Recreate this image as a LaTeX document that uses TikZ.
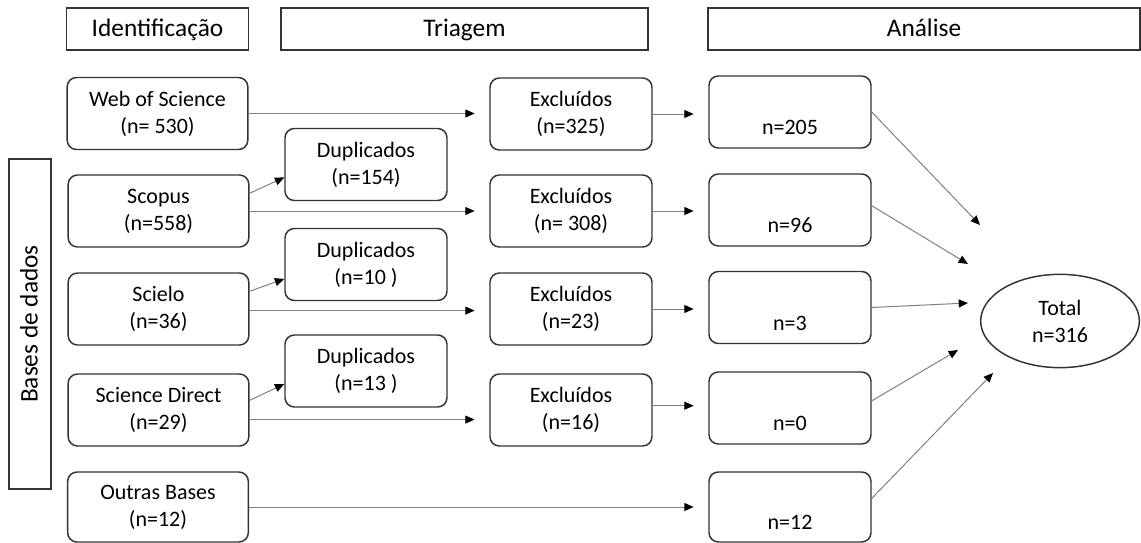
\documentclass[tikz,border=0pt]{standalone}
\usepackage{fontspec}
\setmainfont{Carlito}
\usepackage{tikz}
\usetikzlibrary{arrows.meta,shapes.geometric}

\begin{document}
\begin{tikzpicture}[x=0.75pt,y=-0.75pt,
  head/.style={draw=black!80,line width=1.1pt,inner sep=0pt,minimum height=31.5pt,text height=14.5pt,text depth=3pt,font=\fontsize{19}{23}\selectfont},
  box/.style={draw=black!80,line width=1.1pt,rounded corners=7pt,inner sep=0pt,minimum width=121.5pt,minimum height=54pt,align=center,font=\fontsize{16.5}{20.25}\selectfont},
  src/.style={box,minimum width=135.5pt},
  flow/.style={draw=black!50,line width=0.75pt,-{Triangle[length=7pt,width=6pt,color=black]}}]

\useasboundingbox (0,0) rectangle (1141,542);

% --- phase headers -----------------------------------------------------
\node[head,minimum width=136.5pt] (ident) at (157.5,29) {Identificação};
\node[head,minimum width=275pt] (triagem) at (464.5,29) {Triagem};
\node[head,minimum width=324pt] (analise) at (924,29) {Análise};
\node[head,rotate=90,minimum width=247.5pt,minimum height=31.5pt] (bases) at (30,324) {Bases de dados};

% --- databases ---------------------------------------------------------
\node[src] (wos) at (157.5,113.5) {Web of Science\\(n= 530)};
\node[src] (scopus) at (158.5,211) {Scopus\\(n=558)};
\node[src] (scielo) at (158.5,309) {Scielo\\(n=36)};
\node[src] (sdirect) at (158.5,410) {Science Direct\\(n=29)};
\node[src,minimum height=52.5pt] (outras) at (158,507) {Outras Bases\\(n=12)};

% --- duplicates --------------------------------------------------------
\node[box] (dup1) at (366,164.5) {Duplicados\\(n=154)};
\node[box] (dup2) at (366,264.5) {Duplicados\\(n=10 )};
\node[box] (dup3) at (366,371) {Duplicados\\(n=13 )};

% --- excluded ----------------------------------------------------------
\node[box] (exc1) at (571,114) {Excluídos\\(n=325)};
\node[box] (exc2) at (571,211) {Excluídos\\(n= 308)};
\node[box] (exc3) at (571,309) {Excluídos\\(n=23)};
\node[box] (exc4) at (571,410) {Excluídos\\(n=16)};

% --- analysed ----------------------------------------------------------
\node[box] (an1) at (790,112) {\strut\\n=205};
\node[box] (an2) at (790,210) {\strut\\n=96};
\node[box] (an3) at (790,307.5) {\strut\\n=3};
\node[box] (an4) at (790,408) {\strut\\n=0};
\node[box,minimum height=52.5pt] (an5) at (790,507) {\strut\\n=12};

\node[ellipse,draw=black!80,line width=1.1pt,minimum width=119pt,minimum height=70pt,inner sep=0pt,align=center,font=\fontsize{16.5}{20.25}\selectfont] (total) at (1060,321) {Total\\n=316};

\coordinate (t1) at (980,225);
\coordinate (t2) at (968,264);
\coordinate (t3) at (968,303);
\coordinate (t4) at (958,350);
\coordinate (t5) at (993,373);

% --- connectors --------------------------------------------------------
\draw[flow,shorten >=11pt] (wos.east) -- (wos.east -| exc1.west);
\draw[flow,shorten >=11pt] (scopus.east) -- (scopus.east -| exc2.west);
\draw[flow,shorten >=11pt] (scielo.-1) -- (scielo.-1 -| exc3.west);
\draw[flow,shorten >=11pt] (sdirect.-6) -- (sdirect.-6 -| exc4.west);
\draw[flow,shorten >=11pt] (outras.east) -- (outras.east -| an5.west);

\draw[flow] (scopus.11) -- (dup1.189);
\draw[flow] (scielo.11) -- (dup2.-170);
\draw[flow] (sdirect.6) -- (dup3.189);

\draw[flow,shorten >=11pt] (exc1.east) -- (exc1.east -| an1.west);
\draw[flow,shorten >=11pt] (exc2.east) -- (exc2.east -| an2.west);
\draw[flow,shorten >=11pt] (exc3.east) -- (exc3.east -| an3.west);
\draw[flow,shorten >=11pt] (exc4.3) -- (exc4.3 -| an4.west);

\draw[flow] (an1.east) -- (t1);
\draw[flow] (an2.3) -- (t2);
\draw[flow] (an3.east) -- (t3);
\draw[flow] (an4.5) -- (t4);
\draw[flow] (an5.6) -- (t5);
\end{tikzpicture}
\end{document}
